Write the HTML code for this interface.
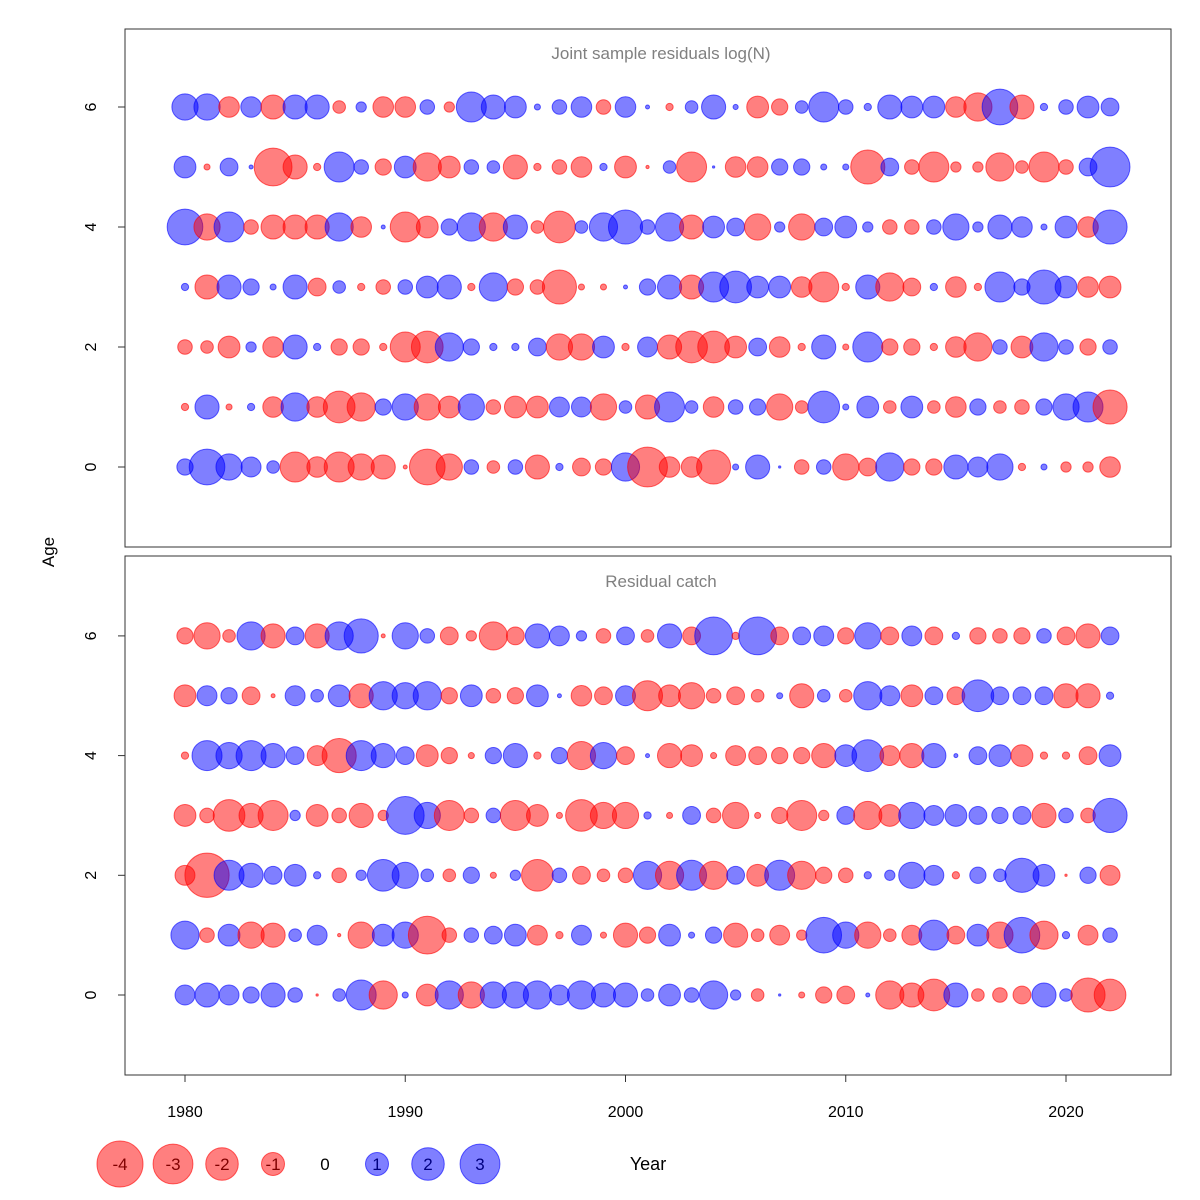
<!DOCTYPE html>
<html><head><meta charset="utf-8">
<style>
html,body{margin:0;padding:0;background:#fff;}
svg{display:block;font-family:"Liberation Sans",sans-serif;}
</style></head>
<body>
<svg id="chart" width="1200" height="1200" viewBox="0 0 1200 1200" xmlns="http://www.w3.org/2000/svg">
<rect x="0" y="0" width="1200" height="1200" fill="#fff"/>
<rect x="125" y="29" width="1046" height="518" fill="none" stroke="#333" stroke-width="1"/>
<rect x="125" y="556" width="1046" height="519" fill="none" stroke="#333" stroke-width="1"/>
<text x="661" y="59" text-anchor="middle" font-size="17" fill="#808080">Joint sample residuals log(N)</text>
<text x="661" y="587" text-anchor="middle" font-size="17" fill="#808080">Residual catch</text>
<text transform="translate(54,552) rotate(-90)" text-anchor="middle" font-size="17" fill="#000">Age</text>
<text x="648" y="1170" text-anchor="middle" font-size="18" fill="#000">Year</text>
<g id="marks"></g>
<g id="axes"></g>
<g id="legend"></g>
</svg>
<script>
const years = [];
for (let y = 1980; y <= 2022; y++) years.push(y);
const ages = [0,1,2,3,4,5,6];
const yTicks = [0,2,4,6];
const xTicks = [1980,1990,2000,2010,2020];
const legendValues = [-4,-3,-2,-1,0,1,2,3];

// Top panel: Joint sample residuals log(N)
const topAge6 = [1.3,1.3,-0.8,0.8,-1.1,1.1,1.1,-0.3,0.2,-0.8,-0.8,0.4,-0.2,1.7,1.1,0.9,0.07,0.4,0.8,-0.4,0.8,0.03,-0.1,0.3,1.1,0.05,-0.9,-0.5,0.3,1.7,0.4,0.1,1.1,0.9,0.9,-0.8,-1.5,2.4,-1.1,0.1,0.4,0.9,0.6];
const topAge5 = [0.9,-0.07,0.6,0.03,-2.7,-1.1,-0.1,1.7,0.4,-0.5,0.9,-1.5,-0.9,0.4,0.3,-1.1,-0.1,-0.4,-0.8,0.1,-0.9,-0.02,0.3,-1.7,0.01,-0.8,-0.8,0.5,0.5,0.07,0.07,-2.2,0.6,-0.4,-1.7,-0.2,-0.2,-1.5,-0.3,-1.7,-0.4,0.6,3.0];
const topAge4 = [2.4,-1.3,1.7,-0.4,-1.1,-1.1,-1.1,1.5,-0.8,0.03,-1.7,-0.9,0.5,1.5,-1.5,1.1,-0.3,-1.9,0.3,1.5,2.2,0.4,1.5,-1.1,0.9,0.6,-1.3,0.2,-1.3,0.6,0.9,0.2,-0.4,-0.4,0.4,1.3,0.2,1.1,0.8,0.07,0.9,-0.8,2.2];
const topAge3 = [0.1,-1.1,1.1,0.5,0.07,1.1,-0.6,0.3,-0.1,-0.4,0.4,0.9,1.1,-0.1,1.5,-0.5,-0.4,-2.2,-0.07,-0.07,0.03,0.5,1.1,-1.1,1.7,1.9,0.9,0.9,-0.8,-1.7,-0.1,1.1,-1.5,-0.6,0.1,-0.8,-0.1,1.7,0.5,2.2,0.9,-0.8,-0.9];
const topAge2 = [-0.4,-0.3,-0.9,0.2,-0.8,1.1,0.1,-0.5,-0.5,-0.1,-1.7,-1.9,1.5,0.5,0.1,0.1,0.6,-1.3,-1.3,0.9,-0.1,0.75,-1.1,-1.9,-1.9,-0.9,0.6,-0.8,-0.1,1.1,-0.07,1.7,-0.5,-0.5,-0.1,-0.8,-1.5,0.4,-0.9,1.5,0.4,-0.5,0.4];
const topAge1 = [-0.1,1.1,-0.07,0.1,-0.8,1.5,-0.8,-1.9,-1.5,0.5,1.3,-1.3,-0.9,1.3,-0.4,-0.9,-0.9,0.75,0.75,-1.3,0.3,-1.1,1.7,0.3,-0.8,0.4,0.5,-1.3,-0.3,1.9,0.07,0.9,-0.3,0.9,-0.3,-0.8,0.5,-0.3,-0.4,0.5,1.3,1.7,-2.2];
const topAge0 = [0.5,2.4,1.3,0.75,0.3,-1.7,-0.8,-1.7,-1.3,-1.1,-0.03,-2.4,-1.3,0.4,-0.3,0.4,-1.1,0.1,-0.6,-0.5,1.5,-3.0,-0.8,-0.8,-2.2,0.07,1.1,0.01,-0.4,0.4,-1.3,-0.6,1.5,-0.5,-0.5,1.1,0.75,1.3,-0.1,0.07,-0.2,-0.2,-0.8];

// Bottom panel: Residual catch
const botAge6 = [-0.5,-1.3,-0.3,1.5,-1.1,0.6,-1.1,1.5,2.2,-0.03,1.3,0.4,-0.6,-0.2,-1.5,-0.6,1.1,0.75,0.2,-0.4,0.6,-0.3,1.1,-0.6,2.7,-0.1,2.7,-0.6,0.6,0.75,-0.5,1.3,-0.6,0.75,-0.6,0.1,-0.5,-0.4,-0.5,0.4,-0.6,-1.1,0.6];
const botAge5 = [-0.9,0.75,0.5,-0.6,-0.03,0.75,0.3,0.9,-1.1,1.5,1.3,1.5,-0.5,0.9,-0.4,-0.5,0.9,0.03,-0.8,-0.6,0.75,-1.7,-0.9,-1.3,-0.4,-0.6,-0.3,0.07,-1.1,0.3,-0.3,1.5,0.75,-0.9,0.6,-0.6,1.9,0.6,0.6,0.6,-1.1,-1.1,0.1];
const botAge4 = [-0.1,1.7,1.3,1.7,1.1,0.6,-0.75,-2.2,1.7,1.1,0.6,-0.9,-0.5,-0.07,0.5,1.1,-0.1,0.5,-1.5,1.3,-0.6,0.03,-1.1,-0.9,-0.07,-0.75,-0.6,-0.5,-0.5,-1.1,0.9,1.9,-0.75,-1.1,1.1,0.03,0.6,0.9,-0.9,-0.1,-0.1,-0.6,0.9];
const botAge3 = [-0.9,-0.4,-1.9,-1.1,-1.7,0.2,-0.9,-0.4,-1.1,-0.2,2.7,1.3,-1.7,-0.4,0.4,-1.7,-0.9,-0.07,-1.9,-1.3,-1.3,0.1,-0.07,0.6,-0.4,-1.3,-0.07,-0.5,-1.7,-0.2,0.6,-1.5,-0.9,1.3,0.75,0.9,0.6,0.5,0.6,-1.1,0.4,-0.4,2.2];
const botAge2 = [-0.75,-3.7,1.7,1.1,0.6,0.9,0.1,-0.4,0.2,1.9,1.3,0.3,-0.3,0.5,-0.07,0.2,-1.9,0.4,-0.6,-0.3,-0.4,1.5,-1.5,1.7,-1.5,0.6,-0.9,1.7,-1.5,-0.5,-0.4,0.1,0.2,1.3,0.75,-0.1,0.5,0.3,2.2,0.9,-0.01,0.5,-0.75];
const botAge1 = [1.5,-0.4,0.9,-1.3,-1.1,0.3,0.75,-0.02,-1.3,0.9,1.3,-2.7,-0.4,0.4,0.6,0.9,-0.75,-0.1,0.75,-0.07,-1.1,-0.5,0.9,0.07,0.5,-1.1,-0.3,-0.75,-0.2,2.4,1.3,-1.3,-0.3,-0.75,1.7,-0.6,0.9,-1.3,2.4,-1.5,0.1,-0.75,0.4];
const botAge0 = [0.75,1.1,0.75,0.5,1.1,0.4,-0.01,0.3,1.7,-1.5,0.07,-0.9,1.5,-1.3,1.3,1.3,1.5,0.75,1.5,1.1,1.1,0.3,0.9,0.4,1.5,0.2,-0.3,0.01,-0.07,-0.5,-0.6,0.03,-1.5,-1.1,-1.9,1.1,-0.3,-0.4,-0.6,1.1,0.3,-2.2,-1.9];

const topRows = [topAge0, topAge1, topAge2, topAge3, topAge4, topAge5, topAge6];
const botRows = [botAge0, botAge1, botAge2, botAge3, botAge4, botAge5, botAge6];

const NS = "http://www.w3.org/2000/svg";
const xScale = yr => 185 + (yr - 1980) * 22.025;
const topY = a => 467 - a * 60;
const botY = a => 995 - a * 59.85;
const rScale = v => 11.5 * Math.sqrt(Math.abs(v));
const RED_F = "rgba(255,0,0,0.5)", RED_S = "rgba(255,0,0,0.6)";
const BLUE_F = "rgba(0,0,255,0.5)", BLUE_S = "rgba(0,0,255,0.6)";

const marks = document.getElementById("marks");
const axes = document.getElementById("axes");
const legend = document.getElementById("legend");

function drawPanel(rows, yFn, prefix) {
  const g = document.createElementNS(NS, "g");
  
  
  marks.appendChild(g);
  ages.forEach(a => {
    const vals = rows[a];
    years.forEach((yr, i) => {
      const v = vals[i];
      const c = document.createElementNS(NS, "circle");
      
      
      c.setAttribute("cx", xScale(yr));
      c.setAttribute("cy", yFn(a));
      c.setAttribute("r", rScale(v));
      c.setAttribute("fill", v < 0 ? RED_F : BLUE_F);
      c.setAttribute("stroke", v < 0 ? RED_S : BLUE_S);
      c.setAttribute("stroke-width", "1");
      g.appendChild(c);
    });
  });
  yTicks.forEach(t => {
    const y = yFn(t);
    const l = document.createElementNS(NS, "line");
    
    
    l.setAttribute("x1", 118); l.setAttribute("x2", 125);
    l.setAttribute("y1", y); l.setAttribute("y2", y);
    l.setAttribute("stroke", "#333");
    axes.appendChild(l);
    const tx = document.createElementNS(NS, "text");
    
    
    tx.setAttribute("transform", "translate(96," + y + ") rotate(-90)");
    tx.setAttribute("text-anchor", "middle");
    tx.setAttribute("font-size", "16");
    tx.textContent = t;
    axes.appendChild(tx);
  });
}
drawPanel(topRows, topY, "top");
drawPanel(botRows, botY, "bottom");

xTicks.forEach(t => {
  const x = xScale(t);
  const l = document.createElementNS(NS, "line");
  
  
  l.setAttribute("x1", x); l.setAttribute("x2", x);
  l.setAttribute("y1", 1075); l.setAttribute("y2", 1082);
  l.setAttribute("stroke", "#333");
  axes.appendChild(l);
  const tx = document.createElementNS(NS, "text");
  
  
  tx.setAttribute("x", x); tx.setAttribute("y", 1117);
  tx.setAttribute("text-anchor", "middle");
  tx.setAttribute("font-size", "16");
  tx.textContent = t;
  axes.appendChild(tx);
});

const legendX = [120,173,222,273,325,377,428,480];
legendValues.forEach((v, i) => {
  const x = legendX[i], y = 1164;
  if (v !== 0) {
    const c = document.createElementNS(NS, "circle");
    
    
    c.setAttribute("cx", x); c.setAttribute("cy", y);
    c.setAttribute("r", rScale(v));
    c.setAttribute("fill", v < 0 ? RED_F : BLUE_F);
    c.setAttribute("stroke", v < 0 ? RED_S : BLUE_S);
    legend.appendChild(c);
  }
  const tx = document.createElementNS(NS, "text");
  
  
  tx.setAttribute("x", x); tx.setAttribute("y", y + 6);
  tx.setAttribute("text-anchor", "middle");
  tx.setAttribute("font-size", "17");
  tx.setAttribute("fill", v < 0 ? "#800000" : (v > 0 ? "#000080" : "#000"));
  tx.textContent = v;
  legend.appendChild(tx);
});
</script>
</body></html>
